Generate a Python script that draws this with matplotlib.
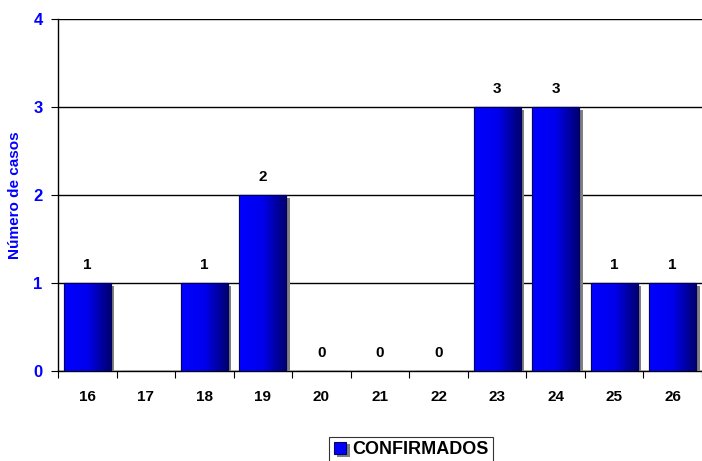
import numpy as np
import matplotlib
matplotlib.use("Agg")
from matplotlib import pyplot as plt
from matplotlib import patheffects as pe
from matplotlib.colors import LinearSegmentedColormap

semanas = ["16", "17", "18", "19", "20", "21", "22", "23", "24", "25", "26"]
confirmados = [1, None, 1, 2, 0, 0, 0, 3, 3, 1, 1]

plt.rcParams['font.family'] = ['Liberation Sans', 'DejaVu Sans']

fig = plt.figure(figsize=(7.02, 4.61), dpi=100)
ax = fig.add_axes([58 / 702, 1 - 371 / 461, 644 / 702, 352 / 461])

x = np.arange(len(semanas))
alturas = [0 if v is None else v for v in confirmados]
barras = ax.bar(x, alturas, width=0.8, color="#0000ff", edgecolor="#000066",
                linewidth=0.8, zorder=3, label="CONFIRMADOS",
                path_effects=[pe.SimplePatchShadow(offset=(2.5, -2), shadow_rgbFace="#808080", alpha=1.0),
                              pe.Normal()])

# degradado azul
cmap = LinearSegmentedColormap.from_list("azul", ["#0000ff", "#0000ee", "#000070"])
grad = np.linspace(0, 1, 256).reshape(1, -1)
for b in barras:
    h = b.get_height()
    if h <= 0:
        continue
    x0 = b.get_x()
    w = b.get_width()
    im = ax.imshow(grad, cmap=cmap, aspect="auto", extent=[x0, x0 + w, 0, h], zorder=4)
    im.set_clip_path(b)
    ax.add_patch(plt.Rectangle((x0, 0), w, h, fill=False, edgecolor="#000066", linewidth=0.8, zorder=5))

for xi, v in zip(x, confirmados):
    if v is None:
        continue
    ax.text(xi, v + 0.12, str(v), ha="center", va="bottom", fontsize=11,
            fontweight="bold", color="black")

ax.set_xlim(-0.5, len(semanas) - 0.5)
ax.set_ylim(0, 4)
ax.set_yticks([0, 1, 2, 3, 4])
ax.set_yticklabels(["0", "1", "2", "3", "4"], fontsize=12, fontweight="bold", color="#0000ff")
ax.set_xticks(x)
ax.set_xticklabels(semanas, fontsize=11, fontweight="bold")
ax.tick_params(axis="x", length=0, pad=14)
ax.set_xticks(np.arange(len(semanas) + 1) - 0.5, minor=True)
ax.tick_params(axis="x", which="minor", length=5, width=0.8, direction="out")
ax.tick_params(axis="y", length=5, width=0.8, direction="out", pad=6)
ax.set_xlim(-0.5, len(semanas) - 0.5)

ax.yaxis.grid(True, color="black", linewidth=1.0, zorder=0)
ax.set_axisbelow(True)
for s in ["top", "right"]:
    ax.spines[s].set_visible(False)
ax.spines["left"].set_linewidth(1.0)
ax.spines["bottom"].set_linewidth(1.0)

ax.set_ylabel("Número de casos", fontsize=11, fontweight="bold", color="#0000ff", labelpad=8)

leg = ax.legend(loc="upper center", bbox_to_anchor=(0.548, -0.187), frameon=True,
                fancybox=False, edgecolor="black", handlelength=0.7, handleheight=0.7,
                handletextpad=0.3, borderpad=0.25, borderaxespad=0,
                prop={"weight": "bold", "size": 13})
leg.get_frame().set_linewidth(0.8)

fig.savefig("out.png", dpi=100)
